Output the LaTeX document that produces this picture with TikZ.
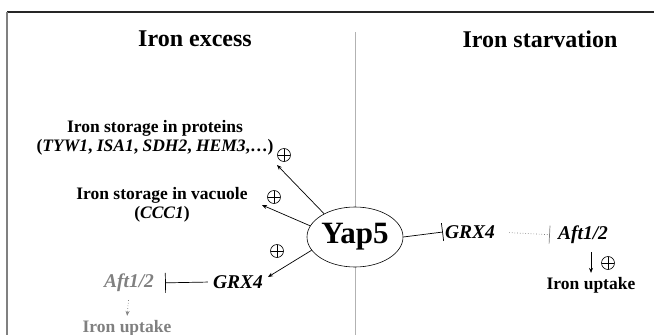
\documentclass[tikz,border=0pt]{standalone}
\usepackage{fontspec}
\setmainfont{Liberation Serif}
\usetikzlibrary{arrows.meta,shapes.geometric}

\begin{document}
\begin{tikzpicture}[x=1pt,y=-1pt,>={Stealth[length=5pt,width=4pt]},
    headtxt/.style={font=\fontsize{24}{28}\selectfont\bfseries},
    bodytxt/.style={font=\fontsize{17.5}{19}\selectfont\bfseries,align=center,inner sep=2pt},
    genetxt/.style={font=\fontsize{19.5}{22}\selectfont\bfseries\itshape,inner sep=2pt},
    plusmark/.style={circle,draw,line width=0.6pt,minimum size=13pt,inner sep=0pt,
        path picture={\draw[line width=0.6pt] (path picture bounding box.north) -- (path picture bounding box.south)
            (path picture bounding box.west) -- (path picture bounding box.east);}},
    faded/.style={text=gray}]

    \useasboundingbox (0,0) rectangle (654,335);

    % frame and divider
    \draw[line width=1.2pt,black!85] (7,12) -- (654,12);
    \draw[line width=2pt,gray] (7,12) -- (7,335);
    \draw[line width=0.8pt,gray!60] (355,32) -- (355,335);

    \node[headtxt] (excess) at (195,39) {Iron excess};
    \node[headtxt] (starv) at (540,39) {Iron starvation};

    \node[ellipse,draw,fill=white,line width=0.6pt,inner sep=0pt,minimum width=96pt,minimum height=60pt,
        font=\fontsize{31}{36}\selectfont\bfseries] (yap) at (355,237) {Yap5};

    % iron excess side
    \begin{scope}
        \node[bodytxt] (prot) at (155,138) {Iron storage in proteins\\(\textit{TYW1}, \textit{ISA1}, \textit{SDH2}, \textit{HEM3},\dots)};
        \node[bodytxt] (vac) at (162,205) {Iron storage in vacuole\\(\textit{CCC1})};
        \node[genetxt] (grxL) at (238,282) {GRX4};
        \node[genetxt,faded] (aftL) at (129,283) {Aft1/2};
        \node[bodytxt,faded] (uptL) at (127,328) {Iron uptake};

        \node[plusmark] (plus1) at (284,155) {};
        \node[plusmark] (plus2) at (274,197) {};
        \node[plusmark] (plus3) at (277,251) {};

        \coordinate (protend) at (277,165);
        \coordinate (vacend) at (262,205);
        \coordinate (grxend) at (268,277);
    \end{scope}

    % iron starvation side
    \begin{scope}
        \node[genetxt] (grxR) at (470,232) {GRX4};
        \node[genetxt] (aftR) at (583,235) {Aft1/2};
        \node[bodytxt] (uptR) at (591,285) {Iron uptake};
        \node[plusmark] (plus4) at (608,263) {};
    \end{scope}

    \begin{scope}[line width=0.7pt]
        \path [->] (yap.143) edge (protend);
        \path [->] (yap.166) edge (vacend);
        \path [->] (yap.197) edge (grxend);
        \path [-{Bar[width=20pt]}] (grxL.west) edge [shorten <=3pt, shorten >=9pt] (aftL.east);
        \path [->, gray, dotted] (aftL.south) edge [shorten <=6pt, shorten >=2pt] (uptL.north);

        \path [-{Bar[width=18pt]}] (yap.east) edge (grxR.west);
        \path [-{Bar[width=18pt]}, gray, dotted] (grxR.east) edge [shorten <=12pt, shorten >=6pt] (aftR.west);
        \path [->] (aftR.south -| uptR.north) edge [shorten <=6pt, shorten >=2pt] (uptR.north);
    \end{scope}

\end{tikzpicture}
\end{document}
